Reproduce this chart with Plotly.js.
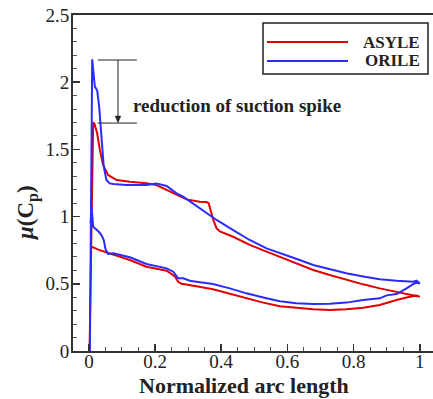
<!DOCTYPE html>
<html>
<head>
<meta charset="utf-8">
<script src="https://cdn.plot.ly/plotly-3.0.1.min.js"></script>
<style>html,body{margin:0;padding:0;background:#fff;}#chart{width:433px;height:399px;}</style>
</head>
<body>
<div id="chart"></div>
<script>
// ASYLE (red): leading edge -> suction side -> trailing edge -> pressure side back
var asyleX = [0.002, 0.006, 0.010, 0.013, 0.017, 0.025, 0.033, 0.043, 0.058, 0.084, 0.124, 0.174, 0.204, 0.245, 0.295, 0.335, 0.355, 0.362, 0.366, 0.376, 0.386, 0.396, 0.436, 0.486, 0.537, 0.587, 0.637, 0.678, 0.728, 0.778, 0.829, 0.879, 0.940, 0.990, 1.000,
              0.990, 0.960, 0.930, 0.879, 0.829, 0.778, 0.728, 0.678, 0.627, 0.577, 0.527, 0.476, 0.426, 0.375, 0.325, 0.295, 0.280, 0.270, 0.260, 0.235, 0.204, 0.174, 0.124, 0.090, 0.053, 0.030, 0.008, 0.005];
var asyleY = [0.000, 0.700, 1.300, 1.700, 1.690, 1.620, 1.500, 1.384, 1.310, 1.272, 1.260, 1.248, 1.235, 1.185, 1.128, 1.110, 1.108, 1.100, 1.060, 0.975, 0.912, 0.890, 0.850, 0.789, 0.739, 0.689, 0.640, 0.603, 0.565, 0.528, 0.496, 0.466, 0.434, 0.409, 0.404,
              0.412, 0.398, 0.380, 0.342, 0.322, 0.310, 0.305, 0.310, 0.320, 0.333, 0.360, 0.392, 0.428, 0.460, 0.482, 0.491, 0.500, 0.515, 0.555, 0.597, 0.615, 0.627, 0.677, 0.705, 0.732, 0.752, 0.776, 0.780];

// ORILE (blue)
var orileX = [0.003, 0.006, 0.010, 0.018, 0.025, 0.031, 0.038, 0.045, 0.053, 0.063, 0.074, 0.114, 0.174, 0.204, 0.235, 0.265, 0.285, 0.335, 0.386, 0.436, 0.486, 0.537, 0.577, 0.637, 0.678, 0.728, 0.778, 0.829, 0.879, 0.930, 0.980, 0.990, 0.995, 1.000,
              0.990, 0.980, 0.960, 0.930, 0.900, 0.879, 0.829, 0.778, 0.728, 0.678, 0.627, 0.577, 0.527, 0.476, 0.426, 0.375, 0.325, 0.305, 0.285, 0.270, 0.255, 0.235, 0.174, 0.124, 0.074, 0.058, 0.050, 0.045, 0.038, 0.030, 0.013, 0.008, 0.005];
var orileY = [0.000, 1.200, 2.170, 1.967, 1.940, 1.820, 1.570, 1.370, 1.272, 1.247, 1.243, 1.235, 1.235, 1.247, 1.228, 1.173, 1.148, 1.062, 0.975, 0.900, 0.826, 0.764, 0.727, 0.677, 0.640, 0.608, 0.578, 0.554, 0.533, 0.522, 0.516, 0.523, 0.512, 0.503,
              0.508, 0.498, 0.466, 0.424, 0.414, 0.392, 0.380, 0.360, 0.352, 0.350, 0.356, 0.370, 0.398, 0.429, 0.466, 0.498, 0.516, 0.523, 0.541, 0.541, 0.590, 0.615, 0.647, 0.697, 0.727, 0.722, 0.760, 0.826, 0.863, 0.887, 0.925, 1.074, 0.950];

var seriesNames = ['ASYLE', 'ORILE'];
var seriesColors = ['#e00000', '#2b2bff'];
var xTickVals = [0, 0.2, 0.4, 0.6, 0.8, 1];
var xTickText = ['0', '0.2', '0.4', '0.6', '0.8', '1'];
var yTickVals = [0, 0.5, 1, 1.5, 2, 2.5];
var yTickText = ['0', '0.5', '1', '1.5', '2', '2.5'];

var serif = 'Liberation Serif, Times New Roman, serif';

var traces = [
  {x: asyleX, y: asyleY, name: seriesNames[0], mode: 'lines', line: {color: seriesColors[0], width: 2}},
  {x: orileX, y: orileY, name: seriesNames[1], mode: 'lines', line: {color: seriesColors[1], width: 2}}
];

// plot area in pixels: left 73, right 433, top 15, bottom 351
function px(x) { return (x - 73) / 360; }
function py(y) { return (351 - y) / 336; }

var shapes = [
  // suction-spike reduction marker
  {type: 'line', xref: 'x', yref: 'y', x0: 0.027, x1: 0.145, y0: 2.165, y1: 2.165, line: {color: '#222', width: 1}},
  {type: 'line', xref: 'x', yref: 'y', x0: 0.027, x1: 0.145, y0: 1.696, y1: 1.696, line: {color: '#222', width: 1}},
  {type: 'line', xref: 'x', yref: 'y', x0: 0.088, x1: 0.088, y0: 2.165, y1: 1.74, line: {color: '#222', width: 1}},
  {type: 'path', xref: 'x', yref: 'y', path: 'M 0.088 1.698 L 0.0795 1.748 L 0.0965 1.748 Z',
   fillcolor: '#222', line: {color: '#222', width: 0.5}},
  // legend box
  {type: 'rect', xref: 'paper', yref: 'paper', x0: px(263), x1: px(428), y0: py(23), y1: py(74),
   line: {color: '#222', width: 1.5}, fillcolor: '#fff', layer: 'above'}
];
var annotations = [
  {xref: 'paper', yref: 'paper', x: px(237), y: py(105), xanchor: 'center', yanchor: 'middle',
   showarrow: false, text: 'reduction of suction spike',
   font: {family: serif, size: 19, color: '#222', weight: 'bold'}},
  {xref: 'paper', yref: 'paper', x: px(244), y: py(385), xanchor: 'center', yanchor: 'middle',
   showarrow: false, text: 'Normalized arc length',
   font: {family: serif, size: 22, color: '#222', weight: 'bold'}},
  {xref: 'paper', yref: 'paper', x: px(27), y: py(213), xanchor: 'center', yanchor: 'middle',
   showarrow: false, textangle: -90, text: '<i>μ</i>(C<sub>p</sub>)',
   font: {family: serif, size: 23, color: '#222', weight: 'bold'}}
];
var legendRowsY = [42, 61];
for (var i = 0; i < seriesNames.length; i++) {
  shapes.push({type: 'line', xref: 'paper', yref: 'paper', x0: px(267), x1: px(348), y0: py(legendRowsY[i]), y1: py(legendRowsY[i]),
               line: {color: seriesColors[i], width: 2}, layer: 'above'});
  annotations.push({xref: 'paper', yref: 'paper', x: px(422), y: py(legendRowsY[i]), xanchor: 'right', yanchor: 'middle',
                    showarrow: false, text: seriesNames[i],
                    font: {family: serif, size: 17, color: '#222', weight: 'bold'}});
}

var layout = {
  width: 433, height: 399,
  margin: {l: 73, r: 0, t: 15, b: 48},
  paper_bgcolor: '#fff', plot_bgcolor: '#fff',
  showlegend: false,
  xaxis: {
    range: [-0.048, 1.04],
    tickvals: xTickVals, ticktext: xTickText,
    ticks: 'inside', ticklen: 7, tickwidth: 1.5, tickcolor: '#333',
    minor: {dtick: 0.05, tick0: 0, ticks: 'inside', ticklen: 4, tickwidth: 1, tickcolor: '#555'},
    showline: true, linecolor: '#333', linewidth: 2, mirror: true,
    showgrid: false, zeroline: false, ticklabelstandoff: -8,
    tickfont: {family: serif, size: 19, color: '#222'}
  },
  yaxis: {
    range: [0, 2.5],
    tickvals: yTickVals, ticktext: yTickText,
    ticks: 'inside', ticklen: 7, tickwidth: 1.5, tickcolor: '#333',
    minor: {dtick: 0.1, tick0: 0, ticks: 'inside', ticklen: 4, tickwidth: 1, tickcolor: '#555'},
    showline: true, linecolor: '#333', linewidth: 2, mirror: false,
    showgrid: false, zeroline: false, ticklabelstandoff: -2,
    tickfont: {family: serif, size: 19, color: '#222'}
  },
  shapes: shapes,
  annotations: annotations
};

Plotly.newPlot('chart', traces, layout, {staticPlot: true, displayModeBar: false});
</script>
</body>
</html>
